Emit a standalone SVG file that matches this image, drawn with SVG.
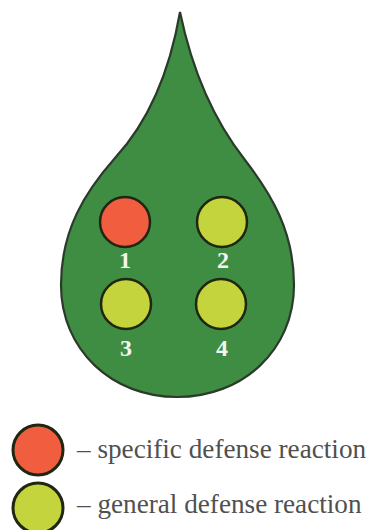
<svg xmlns="http://www.w3.org/2000/svg" width="371" height="530" viewBox="0 0 371 530">
<style>
.drop{fill:#3f8d42;stroke:#2b3a2b;stroke-width:2.2}
.spot{stroke:#1f2712;stroke-width:2.5}
.red{fill:#f15d3f}
.yg{fill:#c3d43c}
.num{font-family:"Liberation Serif",serif;font-weight:bold;font-size:24px;fill:#f4f6ee;text-anchor:middle}
.leg{font-family:"Liberation Serif",serif;font-size:27.2px;fill:#505050}
</style>
<rect width="371" height="530" fill="#ffffff"/>
<g id="drop">
<path class="drop" d="M180,12 C170,70 150,120 115,158 C85,192 61,230 61,285 C61,350 112,397 177,397 C243,397 294,350 294,285 C294,232 272,195 245,160 C212,118 192,70 180,12 Z"/>
</g>
<g id="node1"><circle class="spot red" cx="125" cy="222" r="25"/><text class="num" x="125" y="268">1</text></g>
<g id="node2"><circle class="spot yg" cx="222" cy="222" r="25"/><text class="num" x="223" y="268">2</text></g>
<g id="node3"><circle class="spot yg" cx="126" cy="304" r="25"/><text class="num" x="126" y="356">3</text></g>
<g id="node4"><circle class="spot yg" cx="221" cy="304" r="25"/><text class="num" x="222" y="356">4</text></g>
<g id="connectors"/>
<g id="legend-specific"><circle class="spot red" cx="38" cy="450" r="25" style="stroke-width:3"/><text class="leg" x="77" y="458">– specific defense reaction</text></g>
<g id="legend-general"><circle class="spot yg" cx="38" cy="508" r="25" style="stroke-width:3"/><text class="leg" x="77" y="513">– general defense reaction</text></g>
</svg>
